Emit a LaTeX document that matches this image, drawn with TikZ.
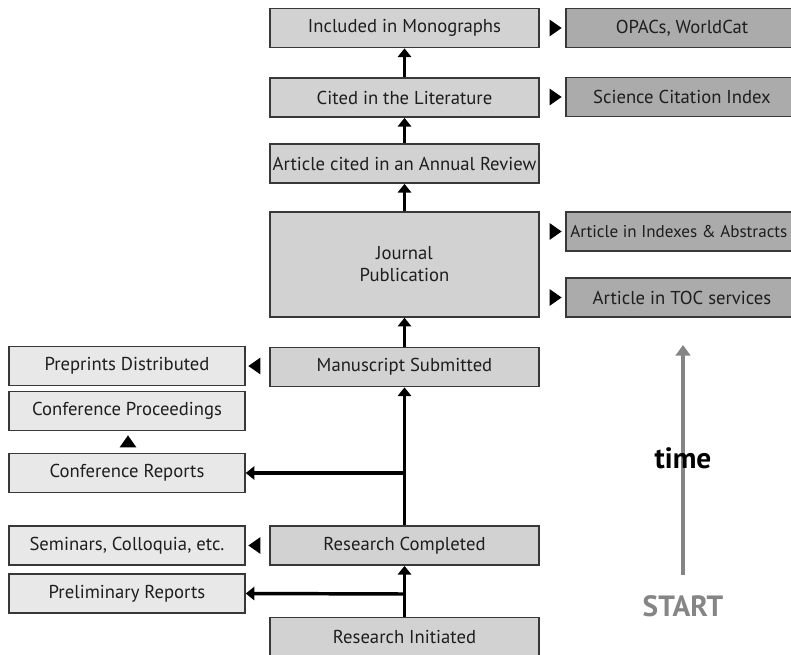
\documentclass[tikz,border=0pt]{standalone}
\usepackage{fontspec}
\setmainfont{PT Sans}
\usetikzlibrary{arrows.meta,shapes.geometric}
\definecolor{cfill}{HTML}{D2D2D2}
\definecolor{rfill}{HTML}{ABABAB}
\definecolor{lfill}{HTML}{E8E8E8}
\definecolor{bord}{HTML}{383838}
\definecolor{timegray}{HTML}{858585}
\definecolor{txt}{HTML}{1E1E1E}
\tikzset{
  box/.style={draw=bord, line width=1.1pt, inner sep=0pt, align=center, text=txt, font=\fontsize{14}{16.5}\selectfont},
  cbox/.style={box, fill=cfill, minimum width=201.75pt, minimum height=29.5pt},
  lbox/.style={box, fill=lfill, minimum width=177pt, minimum height=29pt},
  rbox/.style={box, fill=rfill, minimum width=174pt, minimum height=29.5pt},
  tri/.style={isosceles triangle, fill=black, inner sep=0pt, minimum width=9.5pt, minimum height=9pt, isosceles triangle apex angle=70},
  flow/.style={line width=2.6pt, -{Triangle[width=10pt,length=6.5pt]}},
}
\begin{document}
\begin{tikzpicture}[x=0.75pt,y=-0.75pt]
\useasboundingbox (0,0) rectangle (791,655);
% centre column
\node[cbox] (mono) at (404.5,28) {Included in Monographs};
\node[cbox] (cited) at (404.5,97.5) {Cited in the Literature};
\node[cbox] (annual) at (404.5,163.5) {Article cited in an Annual Review};
\node[cbox, minimum height=78.75pt] (journal) at (404.5,264.5) {Journal\\Publication};
\node[cbox] (manu) at (404.5,367) {Manuscript Submitted};
\node[cbox] (rcomp) at (404.5,545.5) {Research Completed};
\node[cbox] (rinit) at (404.5,637) {Research Initiated};
% right column
\node[rbox] (opacs) at (682,28) {OPACs, WorldCat};
\node[rbox] (sci) at (682,97) {Science Citation Index};
\node[rbox] (idx) at (682,231.5) {\makebox[0pt]{}};
\node[anchor=west, inner sep=0pt, text=txt, font=\fontsize{12.8}{15}\selectfont] (idxtext) at (570,231.5) {Article in Indexes \& Abstracts};
\node[rbox] (toc) at (682,297.5) {Article in TOC services};
% left column
\node[lbox] (pre) at (127,366) {Preprints Distributed};
\node[lbox] (cproc) at (127,411) {Conference Proceedings};
\node[lbox] (crep) at (127,473) {Conference Reports};
\node[lbox] (sem) at (127,545.5) {Seminars, Colloquia, etc.};
\node[lbox] (prel) at (127,593.5) {Preliminary Reports};
% small triangles
\node[tri] (t1) at (554,28) {};
\node[tri] (t2) at (554,97) {};
\node[tri] (t3) at (554,231.5) {};
\node[tri] (t4) at (554,297.5) {};
\node[tri, shape border rotate=180] (t5) at (256,366) {};
\node[tri, shape border rotate=180] (t6) at (256,545.5) {};
\node[tri, shape border rotate=90] (t7) at (128,443) {};
% flow arrows
\draw[flow] (rinit.north) -- (rcomp.south);
\draw[flow] (rcomp.north) -- (manu.south);
\draw[flow] (manu.north) -- (journal.south);
\draw[flow] (journal.north) -- (annual.south);
\draw[flow] (annual.north) -- (cited.south);
\draw[flow] (cited.north) -- (mono.south);
\coordinate (b1) at (404.5,473);
\coordinate (b2) at (404.5,594);
\draw[flow] (b1) -- (crep.east);
\draw[flow] (b2) -- (prel.east);
% time arrow
\coordinate (tlow) at (683,575);
\coordinate (thigh) at (683,345);
\draw[timegray, line width=2.4pt, -{Triangle[width=11pt,length=8pt]}] (tlow) -- (thigh);
\node[font=\fontsize{22}{26}\selectfont\bfseries] (time) at (683,458) {time};
\node[font=\fontsize{22}{26}\selectfont\bfseries, text=timegray] (start) at (683,606) {START};
\end{tikzpicture}
\end{document}
